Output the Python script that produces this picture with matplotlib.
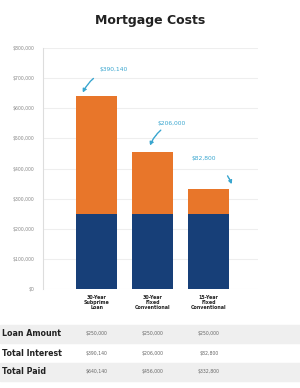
import numpy as np
import matplotlib.pyplot as plt
from matplotlib.patches import Rectangle

categories = ['30-Year\nSubprime\nLoan', '30-Year\nFixed\nConventional', '15-Year\nFixed\nConventional']
loan = [250000, 250000, 250000]
interest = [390140, 206000, 82800]
total = [640140, 456000, 332800]
notes = ['$390,140', '$206,000', '$82,800']
row_names = ['Loan Amount', 'Total Interest', 'Total Paid']
row_vals = [['$250,000', '$250,000', '$250,000'],
            ['$390,140', '$206,000', '$82,800'],
            ['$640,140', '$456,000', '$332,800']]
yticks = np.arange(0, 800001, 100000)

orange = '#E8762A'
navy = '#173F78'
teal = '#3AA6CF'

fig = plt.figure(figsize=(3.0, 3.88), dpi=100)
ax = fig.add_axes([0.143, 0.255, 0.717, 0.621])

x = np.arange(len(categories))
ax.bar(x, loan, width=0.74, color=navy, zorder=2)
ax.bar(x, interest, bottom=loan, width=0.74, color=orange, zorder=2)

ax.set_ylim(0, 800000)
ax.set_xlim(-0.96, 2.88)
ax.set_yticks(yticks)
ax.set_yticklabels(['$' + format(v, ',') for v in yticks], fontsize=3.3, color='#888888')
ax.set_xticks(x)
ax.set_xticklabels(categories, fontsize=3.4, fontweight='bold', color='#222222', linespacing=1.1)
ax.tick_params(length=0, pad=6)
ax.tick_params(axis='x', pad=4)
ax.yaxis.grid(True, color='#eeeeee', linewidth=0.8, zorder=0)
for s in ['top', 'right', 'bottom']:
    ax.spines[s].set_visible(False)
ax.spines['left'].set_color('#dddddd')
ax.spines['left'].set_linewidth(0.8)

# callouts: text position relative to bar centre, arrow tip relative to bar centre / top
text_pos = [(0.05, 90000), (0.09, 95000), (-0.3, 100000)]
tip_pos = [(-0.25, 12000), (-0.05, 20000), (0.41, 15000)]
shrinks = [5, 2, 12]
rads = [0.25, 0.2, -0.25]
for i in range(3):
    ax.annotate(notes[i], xy=(x[i] + tip_pos[i][0], total[i] + tip_pos[i][1]),
                xytext=(x[i] + text_pos[i][0], total[i] + text_pos[i][1]),
                fontsize=4.3, color=teal, ha='left', va='center',
                arrowprops=dict(arrowstyle='-|>', color=teal, lw=1.0, mutation_scale=5,
                                connectionstyle='arc3,rad=%s' % rads[i],
                                linestyle=(0, (2, 0.6)), shrinkA=shrinks[i], shrinkB=0))

fig.text(0.5, 0.948, 'Mortgage Costs', ha='center', va='center', fontsize=9,
         fontweight='bold', color='#222222')

# table rows
row_y = [334, 353, 372]
for j in range(3):
    yc = 1 - row_y[j] / 388
    if j != 1:
        fig.patches.append(Rectangle((0, yc - 9 / 388), 1, 18 / 388, transform=fig.transFigure,
                                     color='#efefef', zorder=0))
    fig.text(2 / 300, yc, row_names[j], ha='left', va='center', fontsize=5.7,
             fontweight='bold', color='#222222')
    for i in range(3):
        fig.text((97 + 56 * i) / 300, yc, row_vals[j][i], ha='center', va='center',
                 fontsize=3.3, color='#666666')

fig.savefig('out.png', dpi=100)
